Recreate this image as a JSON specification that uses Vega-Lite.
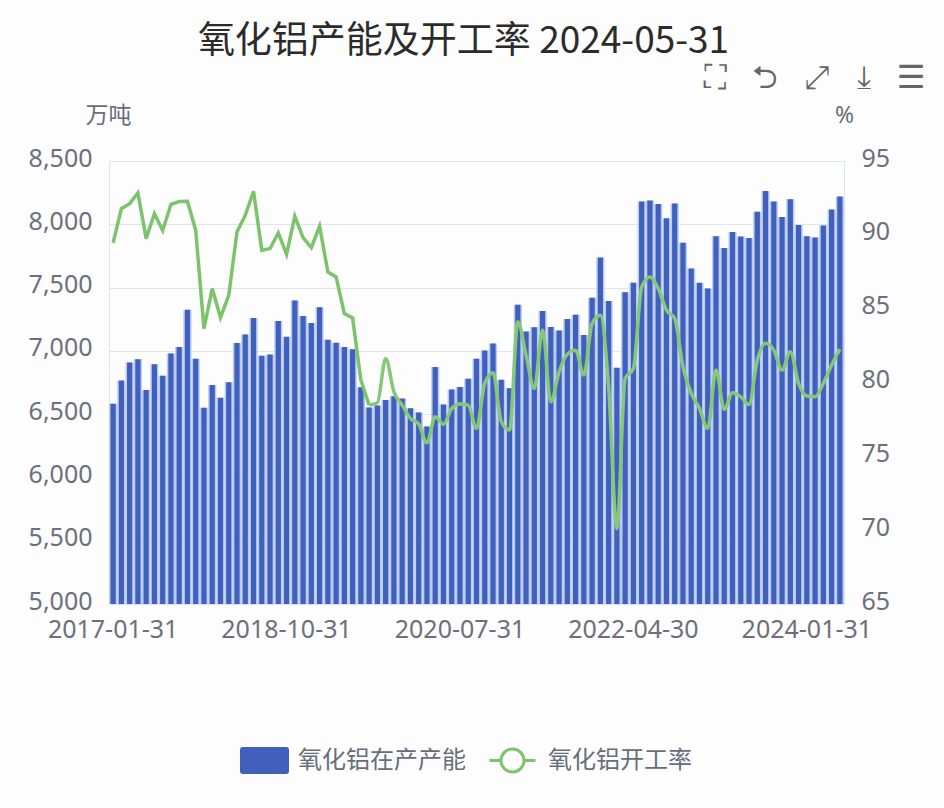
{
  "$schema": "https://vega.github.io/schema/vega-lite/v6.json",
  "autosize": {"type": "none"},
  "width": 735,
  "height": 443,
  "padding": {"left": 109, "top": 161, "right": 100, "bottom": 204},
  "background": "#fdfdfe",
  "title": {
    "text": "氧化铝产能及开工率 2024-05-31",
    "font": "Noto Sans CJK SC",
    "fontSize": 37,
    "fontWeight": 400,
    "color": "#2b2b2b",
    "anchor": "middle",
    "dx": -13,
    "offset": 0
  },
  "data": {"values": [
    {"date": "2017-01-31", "capacity": 6582, "rate": 89.45},
    {"date": "2017-02-28", "capacity": 6766, "rate": 91.77},
    {"date": "2017-03-31", "capacity": 6909, "rate": 92.11},
    {"date": "2017-04-30", "capacity": 6933, "rate": 92.83},
    {"date": "2017-05-31", "capacity": 6691, "rate": 89.74},
    {"date": "2017-06-30", "capacity": 6894, "rate": 91.43},
    {"date": "2017-07-31", "capacity": 6803, "rate": 90.3},
    {"date": "2017-08-31", "capacity": 6979, "rate": 92.07},
    {"date": "2017-09-30", "capacity": 7031, "rate": 92.25},
    {"date": "2017-10-31", "capacity": 7324, "rate": 92.27},
    {"date": "2017-11-30", "capacity": 6938, "rate": 90.3},
    {"date": "2017-12-31", "capacity": 6551, "rate": 83.65},
    {"date": "2018-01-31", "capacity": 6730, "rate": 86.36},
    {"date": "2018-02-28", "capacity": 6629, "rate": 84.4},
    {"date": "2018-03-31", "capacity": 6751, "rate": 85.9},
    {"date": "2018-04-30", "capacity": 7062, "rate": 90.2},
    {"date": "2018-05-31", "capacity": 7130, "rate": 91.32},
    {"date": "2018-06-30", "capacity": 7260, "rate": 92.95},
    {"date": "2018-07-31", "capacity": 6961, "rate": 88.95},
    {"date": "2018-08-31", "capacity": 6971, "rate": 89.07},
    {"date": "2018-09-30", "capacity": 7236, "rate": 90.13},
    {"date": "2018-10-31", "capacity": 7112, "rate": 88.68},
    {"date": "2018-11-30", "capacity": 7397, "rate": 91.25},
    {"date": "2018-12-31", "capacity": 7275, "rate": 89.81},
    {"date": "2019-01-31", "capacity": 7221, "rate": 89.13},
    {"date": "2019-02-28", "capacity": 7345, "rate": 90.58},
    {"date": "2019-03-31", "capacity": 7088, "rate": 87.49},
    {"date": "2019-04-30", "capacity": 7065, "rate": 87.15},
    {"date": "2019-05-31", "capacity": 7031, "rate": 84.67},
    {"date": "2019-06-30", "capacity": 7013, "rate": 84.37},
    {"date": "2019-07-31", "capacity": 6712, "rate": 80.16},
    {"date": "2019-08-31", "capacity": 6552, "rate": 78.47},
    {"date": "2019-09-30", "capacity": 6568, "rate": 78.63},
    {"date": "2019-10-31", "capacity": 6612, "rate": 81.63},
    {"date": "2019-11-30", "capacity": 6641, "rate": 79.37},
    {"date": "2019-12-31", "capacity": 6623, "rate": 78.47},
    {"date": "2020-01-31", "capacity": 6547, "rate": 77.57},
    {"date": "2020-02-29", "capacity": 6513, "rate": 77.19},
    {"date": "2020-03-31", "capacity": 6403, "rate": 75.92},
    {"date": "2020-04-30", "capacity": 6872, "rate": 77.68},
    {"date": "2020-05-31", "capacity": 6576, "rate": 77.16},
    {"date": "2020-06-30", "capacity": 6694, "rate": 78.24},
    {"date": "2020-07-31", "capacity": 6715, "rate": 78.54},
    {"date": "2020-08-31", "capacity": 6780, "rate": 78.47},
    {"date": "2020-09-30", "capacity": 6937, "rate": 76.89},
    {"date": "2020-10-31", "capacity": 7003, "rate": 79.94},
    {"date": "2020-11-30", "capacity": 7058, "rate": 80.66},
    {"date": "2020-12-31", "capacity": 6772, "rate": 77.34},
    {"date": "2021-01-31", "capacity": 6704, "rate": 76.78},
    {"date": "2021-02-28", "capacity": 7364, "rate": 84.11},
    {"date": "2021-03-31", "capacity": 7152, "rate": 81.85},
    {"date": "2021-04-30", "capacity": 7186, "rate": 79.6},
    {"date": "2021-05-31", "capacity": 7314, "rate": 83.55},
    {"date": "2021-06-30", "capacity": 7188, "rate": 78.69},
    {"date": "2021-07-31", "capacity": 7160, "rate": 80.72},
    {"date": "2021-08-31", "capacity": 7251, "rate": 81.92},
    {"date": "2021-09-30", "capacity": 7285, "rate": 82.19},
    {"date": "2021-10-31", "capacity": 7126, "rate": 80.5},
    {"date": "2021-11-30", "capacity": 7420, "rate": 84.0},
    {"date": "2021-12-31", "capacity": 7738, "rate": 84.56},
    {"date": "2022-01-31", "capacity": 7393, "rate": 79.7},
    {"date": "2022-02-28", "capacity": 6867, "rate": 70.1},
    {"date": "2022-03-31", "capacity": 7464, "rate": 80.28},
    {"date": "2022-04-30", "capacity": 7539, "rate": 80.95},
    {"date": "2022-05-31", "capacity": 8180, "rate": 86.48},
    {"date": "2022-06-30", "capacity": 8187, "rate": 87.15},
    {"date": "2022-07-31", "capacity": 8161, "rate": 86.37},
    {"date": "2022-08-31", "capacity": 8047, "rate": 84.9},
    {"date": "2022-09-30", "capacity": 8164, "rate": 84.34},
    {"date": "2022-10-31", "capacity": 7854, "rate": 81.06},
    {"date": "2022-11-30", "capacity": 7651, "rate": 79.26},
    {"date": "2022-12-31", "capacity": 7539, "rate": 78.24},
    {"date": "2023-01-31", "capacity": 7492, "rate": 76.89},
    {"date": "2023-02-28", "capacity": 7906, "rate": 80.84},
    {"date": "2023-03-31", "capacity": 7812, "rate": 78.18},
    {"date": "2023-04-30", "capacity": 7940, "rate": 79.3},
    {"date": "2023-05-31", "capacity": 7904, "rate": 79.03},
    {"date": "2023-06-30", "capacity": 7891, "rate": 78.51},
    {"date": "2023-07-31", "capacity": 8099, "rate": 81.52},
    {"date": "2023-08-31", "capacity": 8263, "rate": 82.65},
    {"date": "2023-09-30", "capacity": 8180, "rate": 82.19},
    {"date": "2023-10-31", "capacity": 8057, "rate": 80.84},
    {"date": "2023-11-30", "capacity": 8198, "rate": 82.08},
    {"date": "2023-12-31", "capacity": 7995, "rate": 79.94},
    {"date": "2024-01-31", "capacity": 7906, "rate": 79.08},
    {"date": "2024-02-29", "capacity": 7896, "rate": 79.03},
    {"date": "2024-03-31", "capacity": 7990, "rate": 79.94},
    {"date": "2024-04-30", "capacity": 8117, "rate": 81.18},
    {"date": "2024-05-31", "capacity": 8219, "rate": 82.26}
  ]},
  "layer": [
    {
      "mark": {"type": "bar", "color": "#b9cbf6", "clip": true},
      "encoding": {
        "x": {"field": "date", "type": "ordinal", "sort": null, "scale": {"type": "band", "paddingInner": 0, "paddingOuter": 0}, "axis": null},
        "y": {"field": "capacity", "type": "quantitative", "scale": {"domain": [5000, 8500], "nice": false, "zero": false},
          "axis": {
            "values": [5000, 5500, 6000, 6500, 7000, 7500, 8000, 8500],
            "format": ",.0f",
            "title": "万吨",
            "titleAngle": 0,
            "titleX": -1,
            "titleY": -46,
            "titleAlign": "center",
            "titleBaseline": "middle",
            "titleFont": "Noto Sans CJK SC",
            "titleFontSize": 23,
            "titleFontWeight": 400,
            "titleColor": "#666e7a",
            "labelFont": "Noto Sans",
            "labelFontSize": 25,
            "labelColor": "#6e7079",
            "labelPadding": 17,
            "labelOffset": -3,
            "domain": false,
            "ticks": false,
            "gridColor": "#dde5f2",
            "gridWidth": 1
          }
        }
      }
    },
    {
      "mark": {"type": "bar", "width": {"band": 0.63}, "clip": true},
      "encoding": {
        "x": {"field": "date", "type": "ordinal", "sort": null, "scale": {"type": "band", "paddingInner": 0, "paddingOuter": 0},
          "axis": {
            "values": ["2017-01-31", "2018-10-31", "2020-07-31", "2022-04-30", "2024-01-31"],
            "title": null,
            "labelAngle": 0,
            "labelFont": "Noto Sans",
            "labelFontSize": 25,
            "labelColor": "#6e7079",
            "labelPadding": 13,
            "labelOverlap": false,
            "domain": false,
            "ticks": false,
            "grid": false
          }
        },
        "y": {"field": "capacity", "type": "quantitative", "scale": {"domain": [5000, 8500], "nice": false, "zero": false}, "axis": null},
        "fill": {
          "datum": "氧化铝在产产能",
          "scale": {"range": ["#4060bb"]},
          "legend": {
            "title": null,
            "orient": "none",
            "legendX": 130,
            "legendY": 574,
            "padding": 0,
            "symbolType": "M-0.88,-0.55H0.88Q1,-0.55 1,-0.43V0.43Q1,0.55 0.88,0.55H-0.88Q-1,0.55 -1,0.43V-0.43Q-1,-0.55 -0.88,-0.55Z",
            "symbolSize": 2401,
            "symbolOpacity": 1,
            "labelFont": "Noto Sans CJK SC",
            "labelFontSize": 24,
            "labelColor": "#666e7a",
            "labelLimit": 300,
            "labelOffset": 8
          }
        }
      }
    },
    {
      "transform": [{"filter": "datum.date <= '2019-08-31'"}],
      "mark": {"type": "line", "strokeWidth": 3.5},
      "encoding": {
        "x": {"field": "date", "type": "ordinal", "sort": null, "scale": {"type": "band", "paddingInner": 0, "paddingOuter": 0},
          "axis": {
            "orient": "top",
            "labels": false,
            "domain": false,
            "ticks": false,
            "grid": false,
            "title": "⛶\u2002 ⮌\u2002 ⤢\u2002 ⤓\u2002 ☰",
            "titleFont": "DejaVu Sans",
            "titleFontSize": 32,
            "titleFontWeight": 400,
            "titleColor": "#666666",
            "titleAlign": "right",
            "titleBaseline": "middle",
            "titleX": 816,
            "titleY": -84
          }
        },
        "y": {"field": "rate", "type": "quantitative", "scale": {"domain": [65, 95], "nice": false, "zero": false},
          "axis": {
            "orient": "right",
            "values": [65, 70, 75, 80, 85, 90, 95],
            "title": "%",
            "titleAngle": 0,
            "titleX": 0,
            "titleY": -46,
            "titleAlign": "center",
            "titleBaseline": "middle",
            "titleFont": "Noto Sans",
            "titleFontSize": 23,
            "titleFontWeight": 400,
            "titleColor": "#666e7a",
            "labelFont": "Noto Sans",
            "labelFontSize": 25,
            "labelColor": "#6e7079",
            "labelPadding": 17,
            "labelOffset": -3,
            "domain": false,
            "ticks": false,
            "grid": false
          }
        },
        "stroke": {
          "datum": "氧化铝开工率",
          "scale": {"range": ["#7cc46b"]},
          "legend": {
            "title": null,
            "orient": "none",
            "legendX": 379,
            "legendY": 575,
            "padding": 0,
            "symbolType": "M-1,0H-0.5A0.5,0.5 0 1 1 0.5,0A0.5,0.5 0 1 1 -0.5,0M0.5,0H1",
            "symbolSize": 2116,
            "symbolStrokeWidth": 3,
            "symbolFillColor": "#ffffff",
            "symbolOpacity": 1,
            "labelFont": "Noto Sans CJK SC",
            "labelFontSize": 24,
            "labelColor": "#666e7a",
            "labelLimit": 300,
            "labelOffset": 11
          }
        }
      }
    },
    {
      "transform": [{"filter": "datum.date >= '2019-08-31'"}],
      "mark": {"type": "line", "strokeWidth": 3.5, "interpolate": "monotone", "color": "#85c878"},
      "encoding": {
        "x": {"field": "date", "type": "ordinal", "sort": null, "scale": {"type": "band", "paddingInner": 0, "paddingOuter": 0}, "axis": null},
        "y": {"field": "rate", "type": "quantitative", "scale": {"domain": [65, 95], "nice": false, "zero": false}, "axis": null}
      }
    }
  ],
  "resolve": {"scale": {"y": "independent"}, "axis": {"x": "independent", "y": "independent"}},
  "config": {"view": {"stroke": "#dde5f2"}}
}
